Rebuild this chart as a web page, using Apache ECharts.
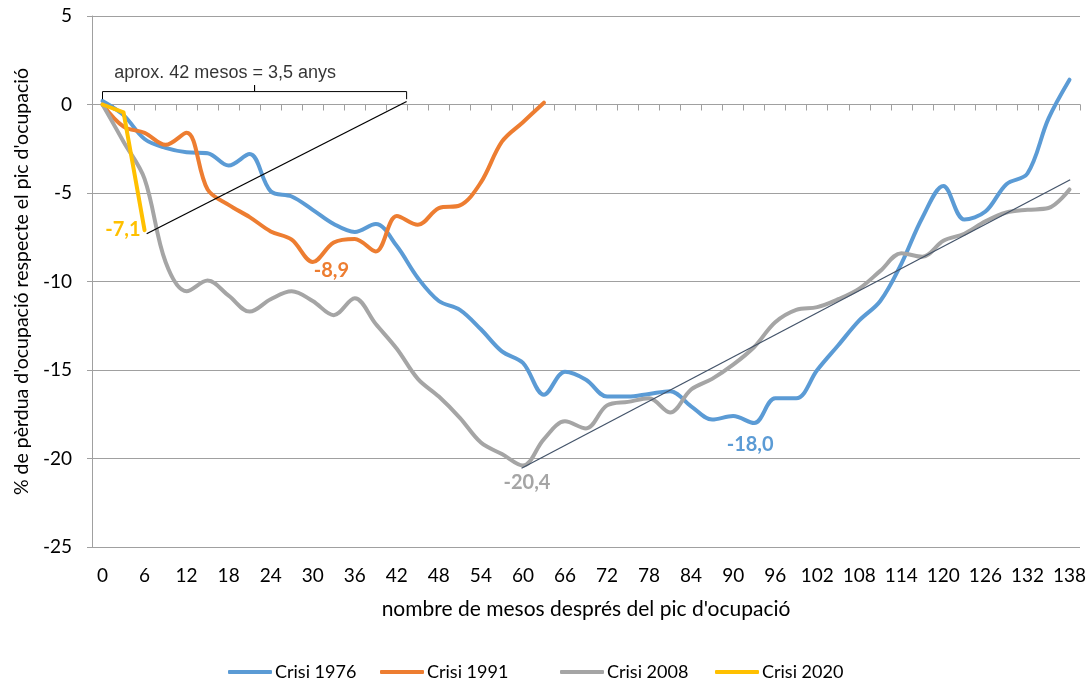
<!DOCTYPE html>
<html>
<head>
<meta charset="utf-8">
<script src="https://cdn.jsdelivr.net/npm/echarts@6/dist/echarts.min.js"></script>
<style>
html,body{margin:0;padding:0;background:#fff;}
#chart{width:1091px;height:682px;}
</style>
</head>
<body>
<div id="chart"></div>
<script>
// months after the employment peak (quarterly points)
const months = ['0','3','6','9','12','15','18','21','24','27','30','33','36','39','42','45','48','51','54','57','60','63','66','69','72','75','78','81','84','87','90','93','96','99','102','105','108','111','114','117','120','123','126','129','132','135','138'];
const yTicks = [5, 0, -5, -10, -15, -20, -25];

const crisi1976 = [0.2, -0.6, -1.95, -2.45, -2.7, -2.75, -3.45, -2.8, -4.9, -5.2, -5.95, -6.75, -7.2, -6.75, -8.0, -9.8, -11.1, -11.6, -12.7, -13.95, -14.6, -16.4, -15.1, -15.55, -16.5, -16.5, -16.35, -16.2, -17.05, -17.8, -17.6, -18.0, -16.6, -16.6, -15.0, -13.6, -12.2, -11.1, -9.0, -6.4, -4.6, -6.5, -6.05, -4.5, -3.9, -0.8, 1.4];
const crisi1991 = [0, -1.25, -1.6, -2.28, -1.6, -4.8, -5.67, -6.36, -7.17, -7.64, -8.9, -7.8, -7.6, -8.3, -6.3, -6.8, -5.85, -5.7, -4.4, -2.1, -1.0, 0.1];
const crisi2008 = [0, -2.1, -4.2, -8.9, -10.55, -9.95, -10.8, -11.7, -11.0, -10.55, -11.1, -11.9, -10.95, -12.4, -13.8, -15.5, -16.5, -17.7, -19.1, -19.75, -20.4, -18.9, -17.9, -18.3, -17.0, -16.8, -16.6, -17.4, -16.1, -15.5, -14.7, -13.7, -12.3, -11.6, -11.45, -11.0, -10.4, -9.4, -8.4, -8.6, -7.7, -7.3, -6.6, -6.1, -5.95, -5.85, -4.8];
const crisi2020 = [0, -0.45, -7.1];

// annotations, in (month, value) coordinates
const trend1 = [[6.3, -7.3], [43.4, 0.17]];
const trend2 = [[59.8, -20.55], [138.1, -4.25]];
const bracket = [[0, 0.3], [0, 0.73], [21.7, 0.73], [21.7, 1.1], [21.7, 0.73], [43.4, 0.73], [43.4, 0.3]];
const bracketText = 'aprox. 42 mesos = 3,5 anys';
const bracketTextPos = [[17.5, 1.77]];

const names = ['Crisi 1976', 'Crisi 1991', 'Crisi 2008', 'Crisi 2020'];
const colors = ['#5B9BD5', '#ED7D31', '#A5A5A5', '#FFC000'];

const FONT = 'Lato';
const fmt = v => v.toFixed(1).replace('.', ',');

function withLabel(arr, idx, color, align, offset) {
  return arr.map((v, i) => {
    if (i !== idx) return v;
    return {
      value: v,
      label: {
        show: true, position: [0, 0], align: align, verticalAlign: 'middle', offset: offset,
        formatter: () => fmt(v), color: color, fontFamily: FONT, fontWeight: 'bold', fontSize: 20
      }
    };
  });
}

function mainSeries(name, data, color, smooth) {
  return {
    name: name, type: 'line', xAxisIndex: 0, yAxisIndex: 0, data: data,
    smooth: smooth, symbol: 'circle', symbolSize: 0, showSymbol: true,
    lineStyle: { color: color, width: 4, cap: 'round', join: 'round' },
    itemStyle: { color: color },
    emphasis: { disabled: true }, z: 3
  };
}

const axisGray = '#A0A0A0';
const chart = echarts.init(document.getElementById('chart'));
const legends = names.map((n, i) => ({
  data: [n], left: [228, 380, 560, 715][i], top: 663, padding: 0,
  icon: 'roundRect', itemWidth: 44, itemHeight: 4, itemGap: 0,
  textStyle: { fontFamily: FONT, fontSize: 18, color: '#000', padding: [0, 0, 0, -2] },
  selectedMode: false
}));

chart.setOption({
  animation: false,
  color: colors,
  legend: legends,
  grid: { left: 92, right: 11, top: 16, bottom: 135 },
  xAxis: [
    {
      type: 'category', data: months, boundaryGap: true, position: 'bottom',
      axisLine: { show: false, onZero: false }, axisTick: { show: false },
      axisLabel: { interval: 1, margin: 19, fontFamily: FONT, fontSize: 19, color: '#000' },
      splitLine: { show: false },
      name: "nombre de mesos després del pic d'ocupació", nameLocation: 'middle', nameGap: 52,
      nameTextStyle: { fontFamily: FONT, fontSize: 21, color: '#000' }
    },
    {
      type: 'category', data: months, boundaryGap: true, position: 'bottom',
      axisLine: { show: true, onZero: true, lineStyle: { color: axisGray, width: 1 } },
      axisTick: { show: true, interval: 0, length: 6, lineStyle: { color: axisGray } },
      axisLabel: { show: false }, splitLine: { show: false }
    },
    { type: 'value', min: -1.5, max: 139.5, show: false }
  ],
  yAxis: {
    type: 'value', min: yTicks[yTicks.length - 1], max: yTicks[0], interval: 5,
    axisLine: { show: true, onZero: false, lineStyle: { color: axisGray } },
    axisTick: { show: true, length: 5, lineStyle: { color: axisGray } },
    splitLine: { show: true, lineStyle: { color: axisGray, width: 1 } },
    axisLabel: { margin: 20, fontFamily: FONT, fontSize: 19, color: '#000' },
    name: "% de pèrdua d'ocupació respecte el pic d'ocupació", nameLocation: 'middle', nameGap: 58,
    nameTextStyle: { fontFamily: FONT, fontSize: 19.5, color: '#000' }
  },
  series: [
    mainSeries(names[0], withLabel(crisi1976, 31, colors[0], 'center', [-4, 21]), colors[0], 0.35),
    mainSeries(names[1], withLabel(crisi1991, 10, colors[1], 'left', [1, 9]), colors[1], 0.35),
    mainSeries(names[2], withLabel(crisi2008, 20, colors[2], 'center', [4, 17]), colors[2], 0.35),
    mainSeries(names[3], withLabel(crisi2020, 2, colors[3], 'right', [-4, -1]), colors[3], false),
    {
      type: 'line', xAxisIndex: 2, data: trend1, symbol: 'none', silent: true,
      lineStyle: { color: '#000', width: 1.3 }, z: 4
    },
    {
      type: 'line', xAxisIndex: 2, data: trend2, symbol: 'none', silent: true,
      lineStyle: { color: '#44546A', width: 1.3 }, z: 4
    },
    {
      type: 'line', xAxisIndex: 2, data: bracket, symbol: 'none', silent: true,
      lineStyle: { color: '#000', width: 1 }, z: 4
    },
    {
      type: 'scatter', xAxisIndex: 2, data: bracketTextPos, symbolSize: 0, silent: true,
      label: {
        show: true, position: [0, 0], align: 'center', verticalAlign: 'middle',
        formatter: bracketText, fontFamily: 'Liberation Sans', fontSize: 18, color: '#000'
      }, z: 5
    }
  ]
});
</script>
</body>
</html>
